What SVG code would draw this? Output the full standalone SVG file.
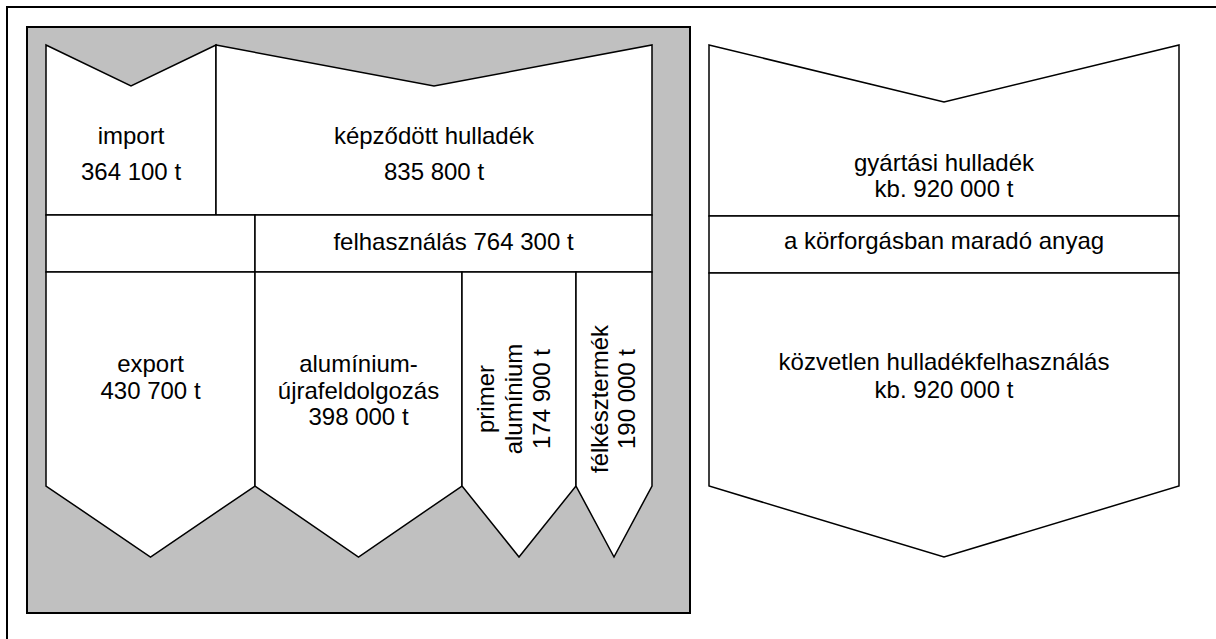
<svg xmlns="http://www.w3.org/2000/svg" width="1216" height="639" viewBox="0 0 1216 639">
<style>
.sh{fill:#fff;stroke:#000;stroke-width:1.5;stroke-linejoin:miter}
.t{font-family:"Liberation Sans",Arial,sans-serif;font-size:24px;fill:#000;text-anchor:middle}
</style>
<rect width="1216" height="639" fill="#fff"/>
<path d="M7,639 V7 H1216" fill="none" stroke="#000" stroke-width="2"/>
<rect x="27" y="27" width="663" height="586" fill="#C0C0C0" stroke="#000" stroke-width="2"/>
<g id="import">
<polygon class="sh" points="46,45 131,86 216,45 216,215 46,215"/>
<text class="t" x="131" y="144">import</text>
<text class="t" x="131" y="180">364 100 t</text>
</g>
<g id="kepzodott">
<polygon class="sh" points="216,45 434,86 652,45 652,215 216,215"/>
<text class="t" x="434" y="144">képződött hulladék</text>
<text class="t" x="434" y="180">835 800 t</text>
</g>
<g id="empty-left">
<rect class="sh" x="46" y="215" width="209" height="57"/>
</g>
<g id="felhasznalas">
<rect class="sh" x="255" y="215" width="397" height="57"/>
<text class="t" x="453.5" y="250">felhasználás 764 300 t</text>
</g>
<g id="export">
<polygon class="sh" points="46,272 255,272 255,486 150.5,557 46,486"/>
<text class="t" x="150.5" y="372">export</text>
<text class="t" x="150.5" y="399">430 700 t</text>
</g>
<g id="aluminium">
<polygon class="sh" points="255,272 462,272 462,486 358.5,557 255,486"/>
<text class="t" x="358.5" y="372">alumínium-</text>
<text class="t" x="358.5" y="399">újrafeldolgozás</text>
<text class="t" x="358.5" y="425">398 000 t</text>
</g>
<g id="primer">
<polygon class="sh" points="462,272 576,272 576,486 519,557 462,486"/>
<text class="t" transform="translate(494,399) rotate(-90)">primer</text>
<text class="t" transform="translate(522,399) rotate(-90)">alumínium</text>
<text class="t" transform="translate(550,399) rotate(-90)">174 900 t</text>
</g>
<g id="felkesztermek">
<polygon class="sh" points="576,272 652,272 652,486 614,557 576,486"/>
<text class="t" transform="translate(608,399) rotate(-90)">félkésztermék</text>
<text class="t" transform="translate(635,399) rotate(-90)">190 000 t</text>
</g>
<g id="gyartasi">
<polygon class="sh" points="709,45 944,102 1179,45 1179,216 709,216"/>
<text class="t" x="944" y="171">gyártási hulladék</text>
<text class="t" x="944" y="197">kb. 920 000 t</text>
</g>
<g id="korforgas">
<rect class="sh" x="709" y="216" width="470" height="57"/>
<text class="t" x="944" y="249">a körforgásban maradó anyag</text>
</g>
<g id="kozvetlen">
<polygon class="sh" points="709,273 1179,273 1179,486 944,557 709,486"/>
<text class="t" x="944" y="370">közvetlen hulladékfelhasználás</text>
<text class="t" x="944" y="398">kb. 920 000 t</text>
</g>
<g id="connectors"/>
</svg>
